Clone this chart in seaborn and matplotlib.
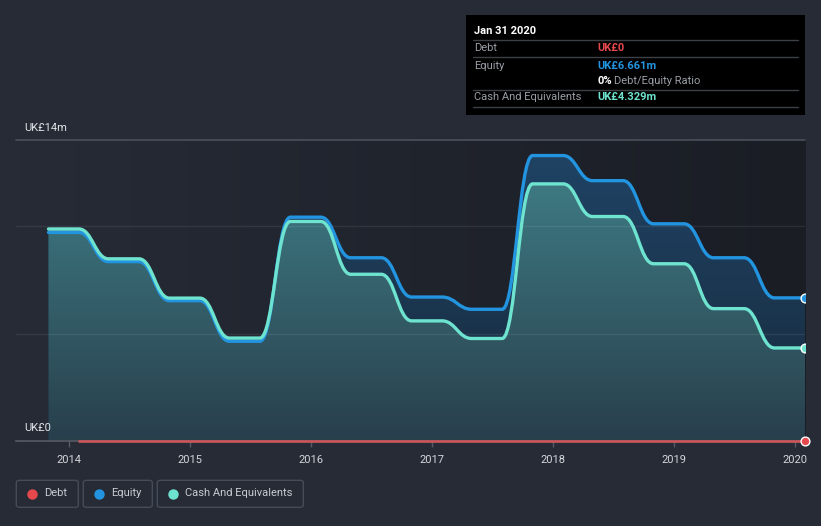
import numpy as np
import pandas as pd
import matplotlib
matplotlib.use('Agg')
import matplotlib.pyplot as plt
import matplotlib.dates as mdates
from matplotlib.colors import LinearSegmentedColormap
from matplotlib.patches import Rectangle, FancyBboxPatch, PathPatch
from matplotlib.path import Path
from matplotlib.lines import Line2D
import seaborn as sns

# Данные (в млн фунтов), квартальные точки
dates = ['2013-10-31', '2014-01-31', '2014-04-30', '2014-07-31', '2014-10-31',
         '2015-01-31', '2015-04-30', '2015-07-31', '2015-10-31', '2016-01-31',
         '2016-04-30', '2016-07-31', '2016-10-31', '2017-01-31', '2017-04-30',
         '2017-07-31', '2017-10-31', '2018-01-31', '2018-04-30', '2018-07-31',
         '2018-10-31', '2019-01-31', '2019-04-30', '2019-07-31', '2019-10-31',
         '2020-01-31']
equity = [9.71, 9.71, 8.35, 8.35, 6.53, 6.53, 4.64, 4.64, 10.42, 10.42,
          8.53, 8.53, 6.70, 6.70, 6.13, 6.13, 13.29, 13.29, 12.12, 12.12,
          10.11, 10.11, 8.53, 8.53, 6.661, 6.661]
cash = [9.87, 9.87, 8.48, 8.48, 6.65, 6.65, 4.79, 4.79, 10.22, 10.22,
        7.76, 7.76, 5.59, 5.59, 4.77, 4.77, 11.97, 11.97, 10.45, 10.45,
        8.25, 8.25, 6.16, 6.16, 4.329, 4.329]
debt_dates = ['2014-01-31', '2020-01-31']
debt = [0, 0]
year_ticks = ['2014', '2015', '2016', '2017', '2018', '2019', '2020']

# Цвета
BG = '#262b36'
BG_DARK = '#1a1d24'
C_DEBT = '#e5484d'
C_EQ = '#2394df'
C_CASH = '#6ee3cf'
GRAY = '#9a9ea6'

W, H = 821, 526

def px(x, y):
    # пиксели (от левого верхнего угла) -> доли фигуры
    return x / W, 1 - y / H

sns.set_style('dark')
plt.rcParams['font.family'] = ['Roboto', 'DejaVu Sans']

df = pd.DataFrame({'date': pd.to_datetime(dates), 'equity': equity, 'cash': cash})
df_debt = pd.DataFrame({'date': pd.to_datetime(debt_dates), 'debt': debt})
df_end = df.iloc[[-1]]

fig = plt.figure(figsize=(W / 100, H / 100), dpi=100, facecolor=BG)
pos = [16 / W, 1 - 440.9 / H, 789 / W, 300.6 / H]

# Фон области графика с горизонтальным градиентом
bg_ax = fig.add_axes(pos, zorder=-1)
bg_cmap = LinearSegmentedColormap.from_list('bg', [BG, BG_DARK])
bg_ax.imshow(np.linspace(0, 1, 256).reshape(1, -1), cmap=bg_cmap, aspect='auto',
             extent=[0, 1, 0, 1])
bg_ax.axis('off')

ax = fig.add_axes(pos)
ax.set_facecolor('none')

x_left = pd.Timestamp('2013-07-25')
x_right = pd.Timestamp('2020-01-31')
y_top = 14

# Линия долга и точки на конце (задают ось дат)
sns.lineplot(data=df_debt, x='date', y='debt', color='#c4565c', linewidth=2, ax=ax,
             zorder=6, sort=False, clip_on=False)
sns.scatterplot(data=df_end, x='date', y='equity', color=C_EQ, s=40, edgecolor='white',
                linewidth=1, ax=ax, zorder=7)
sns.scatterplot(data=df_end, x='date', y='cash', color=C_CASH, s=40, edgecolor='white',
                linewidth=1, ax=ax, zorder=7)
sns.scatterplot(data=df_debt.iloc[[-1]], x='date', y='debt', color=C_DEBT, s=40,
                edgecolor='white', linewidth=1, ax=ax, zorder=7, clip_on=False)


def smooth_path(x, y, close=False):
    # плавные переходы между точками (кривые Безье с горизонтальными касательными)
    xn = mdates.date2num(x)
    y = list(y)
    verts = [(xn[0], y[0])]
    codes = [Path.MOVETO]
    for i in range(1, len(xn)):
        d = (xn[i] - xn[i - 1]) * 0.45
        verts += [(xn[i - 1] + d, y[i - 1]), (xn[i] - d, y[i]), (xn[i], y[i])]
        codes += [Path.CURVE4] * 3
    if close:
        verts += [(xn[-1], 0), (xn[0], 0), (xn[0], y[0])]
        codes += [Path.LINETO, Path.LINETO, Path.CLOSEPOLY]
    return Path(verts, codes)


def gradient_fill(x, y, c_bottom, c_top, z):
    cmap = LinearSegmentedColormap.from_list('g', [c_bottom, c_top])
    xn = mdates.date2num(x)
    img = ax.imshow(np.linspace(0, 1, 256).reshape(-1, 1), cmap=cmap, aspect='auto',
                    origin='lower', extent=[xn.min(), xn.max(), 0, y_top], zorder=z)
    img.set_clip_path(smooth_path(x, y, close=True), ax.transData)


gradient_fill(df['date'], df['equity'], '#172a3c', '#204466', 1)
gradient_fill(df['date'], df['cash'], '#283f4c', '#41838b', 2)

ax.add_patch(PathPatch(smooth_path(df['date'], df['equity']), facecolor='none',
                       edgecolor=C_EQ, lw=2.4, zorder=4, capstyle='round'))
ax.add_patch(PathPatch(smooth_path(df['date'], df['cash']), facecolor='none',
                       edgecolor=C_CASH, lw=2.4, zorder=5, capstyle='round'))

# Сетка
for v in [5, 10]:
    ax.axhline(v, color='white', alpha=0.08, lw=1, zorder=3)
ax.axhline(y_top, color='#4b505b', lw=1.2, zorder=3, clip_on=False)

ax.set_xlim(x_left, x_right)
ax.set_ylim(0, y_top)
ax.set_xticks([pd.Timestamp(f'{y}-01-01') for y in year_ticks])
ax.set_xticklabels(year_ticks, color='#d4d6da', fontsize=8)
ax.set_yticks([])
ax.tick_params(axis='x', length=4, width=1, color='#555a64', pad=6, bottom=True)
ax.set_xlabel('')
ax.set_ylabel('')
ax.grid(False)
for s in ['top', 'right', 'left']:
    ax.spines[s].set_visible(False)
ax.spines['bottom'].set_color('#555a64')
ax.spines['bottom'].set_linewidth(1.2)

# Подписи оси Y
fig.text(*px(24, 128), 'UK£14m', color='#e3e5e8', fontsize=8, va='center', ha='left')
fig.text(*px(24, 428), 'UK£0', color='#e3e5e8', fontsize=8, va='center', ha='left')

# Всплывающая подсказка
fig.patches.append(Rectangle(px(466, 115), 339 / W, 100 / H, transform=fig.transFigure,
                             facecolor='#000000', edgecolor='none', zorder=10))
fig.text(*px(474, 30.5), 'Jan 31 2020', color='white', fontsize=8, fontweight='bold',
         va='center', zorder=11)
for yy in [40.3, 57.3, 90.3, 107]:
    fig.add_artist(Line2D([473 / W, 798 / W], [1 - yy / H, 1 - yy / H], color='#3c3f44',
                          lw=1, zorder=11))
rows = [(48.3, 'Debt', 'UK£0', C_DEBT),
        (65.7, 'Equity', 'UK£6.661m', C_EQ),
        (97.3, 'Cash And Equivalents', 'UK£4.329m', C_CASH)]
for yy, lab, val, c in rows:
    fig.text(*px(474, yy), lab, color=GRAY, fontsize=8, va='center', zorder=11)
    fig.text(*px(597, yy), val, color=c, fontsize=8, fontweight='bold', va='center', zorder=11)
fig.text(*px(597, 81), '0%', color='white', fontsize=8, fontweight='bold', va='center', zorder=11)
fig.text(*px(614.5, 81), 'Debt/Equity Ratio', color=GRAY, fontsize=8, va='center', zorder=11)

# Легенда
legend_items = [('Debt', C_DEBT, 16.3, 78.3), ('Equity', C_EQ, 83.3, 152.3),
                ('Cash And Equivalents', C_CASH, 157.3, 303.3)]
for lab, c, x0, x1 in legend_items:
    fig.patches.append(FancyBboxPatch(px(x0, 507.3), (x1 - x0) / W, 27 / H,
                                      boxstyle='round,pad=0,rounding_size=0.004',
                                      transform=fig.transFigure, facecolor='none',
                                      edgecolor='#464c57', lw=1))
    fig.add_artist(Line2D([(x0 + 15.5) / W], [1 - 493.5 / H], marker='o', ms=6.5,
                          color=c, lw=0))
    fig.text(*px(x0 + 28, 493.5), lab, color='#c9ccd1', fontsize=8, va='center')

fig.savefig('out.png', dpi=100, facecolor=BG)
